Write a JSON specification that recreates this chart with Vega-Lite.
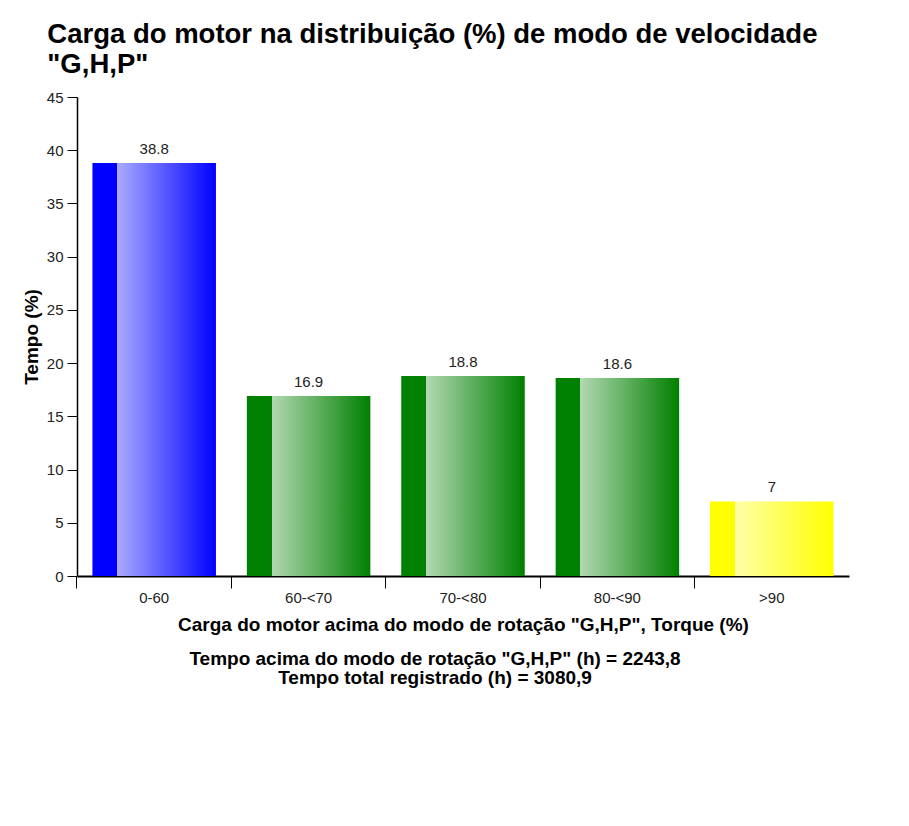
{
  "$schema": "https://vega.github.io/schema/vega-lite/v6.json",
  "padding": {"left": 22, "top": 20, "right": 5, "bottom": 5},
  "background": "white",
  "config": {
    "font": "Liberation Sans",
    "view": {"stroke": null},
    "concat": {"spacing": 15}
  },
  "title": {
    "text": ["Carga do motor na distribuição (%) de modo de velocidade", "\"G,H,P\""],
    "anchor": "start",
    "frame": "bounds",
    "dx": 25,
    "fontSize": 27.5,
    "fontWeight": "bold",
    "color": "#000000",
    "lineHeight": 30,
    "offset": 12
  },
  "datasets": {
    "bars": [
      {"cat": "0-60", "v": 38.8, "grp": "blue"},
      {"cat": "60-<70", "v": 16.9, "grp": "green"},
      {"cat": "70-<80", "v": 18.8, "grp": "green"},
      {"cat": "80-<90", "v": 18.6, "grp": "green"},
      {"cat": ">90", "v": 7, "grp": "yellow"}
    ],
    "footer": [
      {"line": 1, "txt": "Tempo acima do modo de rotação \"G,H,P\" (h) = 2243,8"},
      {"line": 2, "txt": "Tempo total registrado (h) = 3080,9"}
    ]
  },
  "vconcat": [
    {
      "width": 772,
      "height": 479,
      "data": {"name": "bars"},
      "encoding": {
        "x": {
          "field": "cat",
          "type": "nominal",
          "sort": null,
          "scale": {"paddingInner": 0.2, "paddingOuter": 0.1},
          "axis": {
            "title": "Carga do motor acima do modo de rotação \"G,H,P\", Torque (%)",
            "titleFontSize": 19,
            "titleFontWeight": "bold",
            "titleColor": "#000000",
            "titlePadding": 10,
            "labelAngle": 0,
            "labelFontSize": 15,
            "labelColor": "#222222",
            "labelPadding": 2,
            "tickSize": 12,
            "tickColor": "#000000",
            "domainColor": "#000000",
            "domainWidth": 2,
            "bandPosition": -0.125
          }
        },
        "y": {
          "field": "v",
          "type": "quantitative",
          "scale": {"domain": [0, 45], "nice": false},
          "axis": {
            "title": "Tempo (%)",
            "titleFontSize": 19,
            "titleFontWeight": "bold",
            "titleColor": "#000000",
            "titlePadding": 5,
            "values": [0, 5, 10, 15, 20, 25, 30, 35, 40, 45],
            "grid": false,
            "labelFontSize": 15,
            "labelColor": "#222222",
            "labelPadding": 4,
            "tickSize": 10,
            "tickColor": "#000000",
            "domainColor": "#000000",
            "domainWidth": 1.5
          }
        }
      },
      "layer": [
        {
          "transform": [{"filter": "datum.grp === 'blue'"}],
          "mark": {
            "type": "bar",
            "color": {
              "gradient": "linear", "x1": 0, "x2": 1, "y1": 0, "y2": 0,
              "stops": [
                {"offset": 0, "color": "#0000ff"},
                {"offset": 0.2, "color": "#0000ff"},
                {"offset": 0.201, "color": "#aaaaff"},
                {"offset": 1, "color": "#0000ff"}
              ]
            }
          }
        },
        {
          "transform": [{"filter": "datum.grp === 'green'"}],
          "mark": {
            "type": "bar",
            "color": {
              "gradient": "linear", "x1": 0, "x2": 1, "y1": 0, "y2": 0,
              "stops": [
                {"offset": 0, "color": "#008000"},
                {"offset": 0.2, "color": "#008000"},
                {"offset": 0.201, "color": "#b2d8b2"},
                {"offset": 1, "color": "#008000"}
              ]
            }
          }
        },
        {
          "transform": [{"filter": "datum.grp === 'yellow'"}],
          "mark": {
            "type": "bar",
            "color": {
              "gradient": "linear", "x1": 0, "x2": 1, "y1": 0, "y2": 0,
              "stops": [
                {"offset": 0, "color": "#ffff00"},
                {"offset": 0.2, "color": "#ffff00"},
                {"offset": 0.201, "color": "#ffffaa"},
                {"offset": 1, "color": "#ffff00"}
              ]
            }
          }
        },
        {
          "mark": {"type": "text", "dy": -14, "fontSize": 15, "color": "#222222"},
          "encoding": {"text": {"field": "v", "type": "quantitative"}}
        }
      ]
    },
    {
      "width": 716,
      "height": 38,
      "data": {"name": "footer"},
      "mark": {"type": "text", "fontSize": 19, "fontWeight": "bold", "color": "#000000"},
      "encoding": {
        "y": {"field": "line", "type": "ordinal", "scale": {"type": "point", "padding": 0.5}, "axis": null},
        "text": {"field": "txt", "type": "nominal"}
      }
    }
  ]
}
